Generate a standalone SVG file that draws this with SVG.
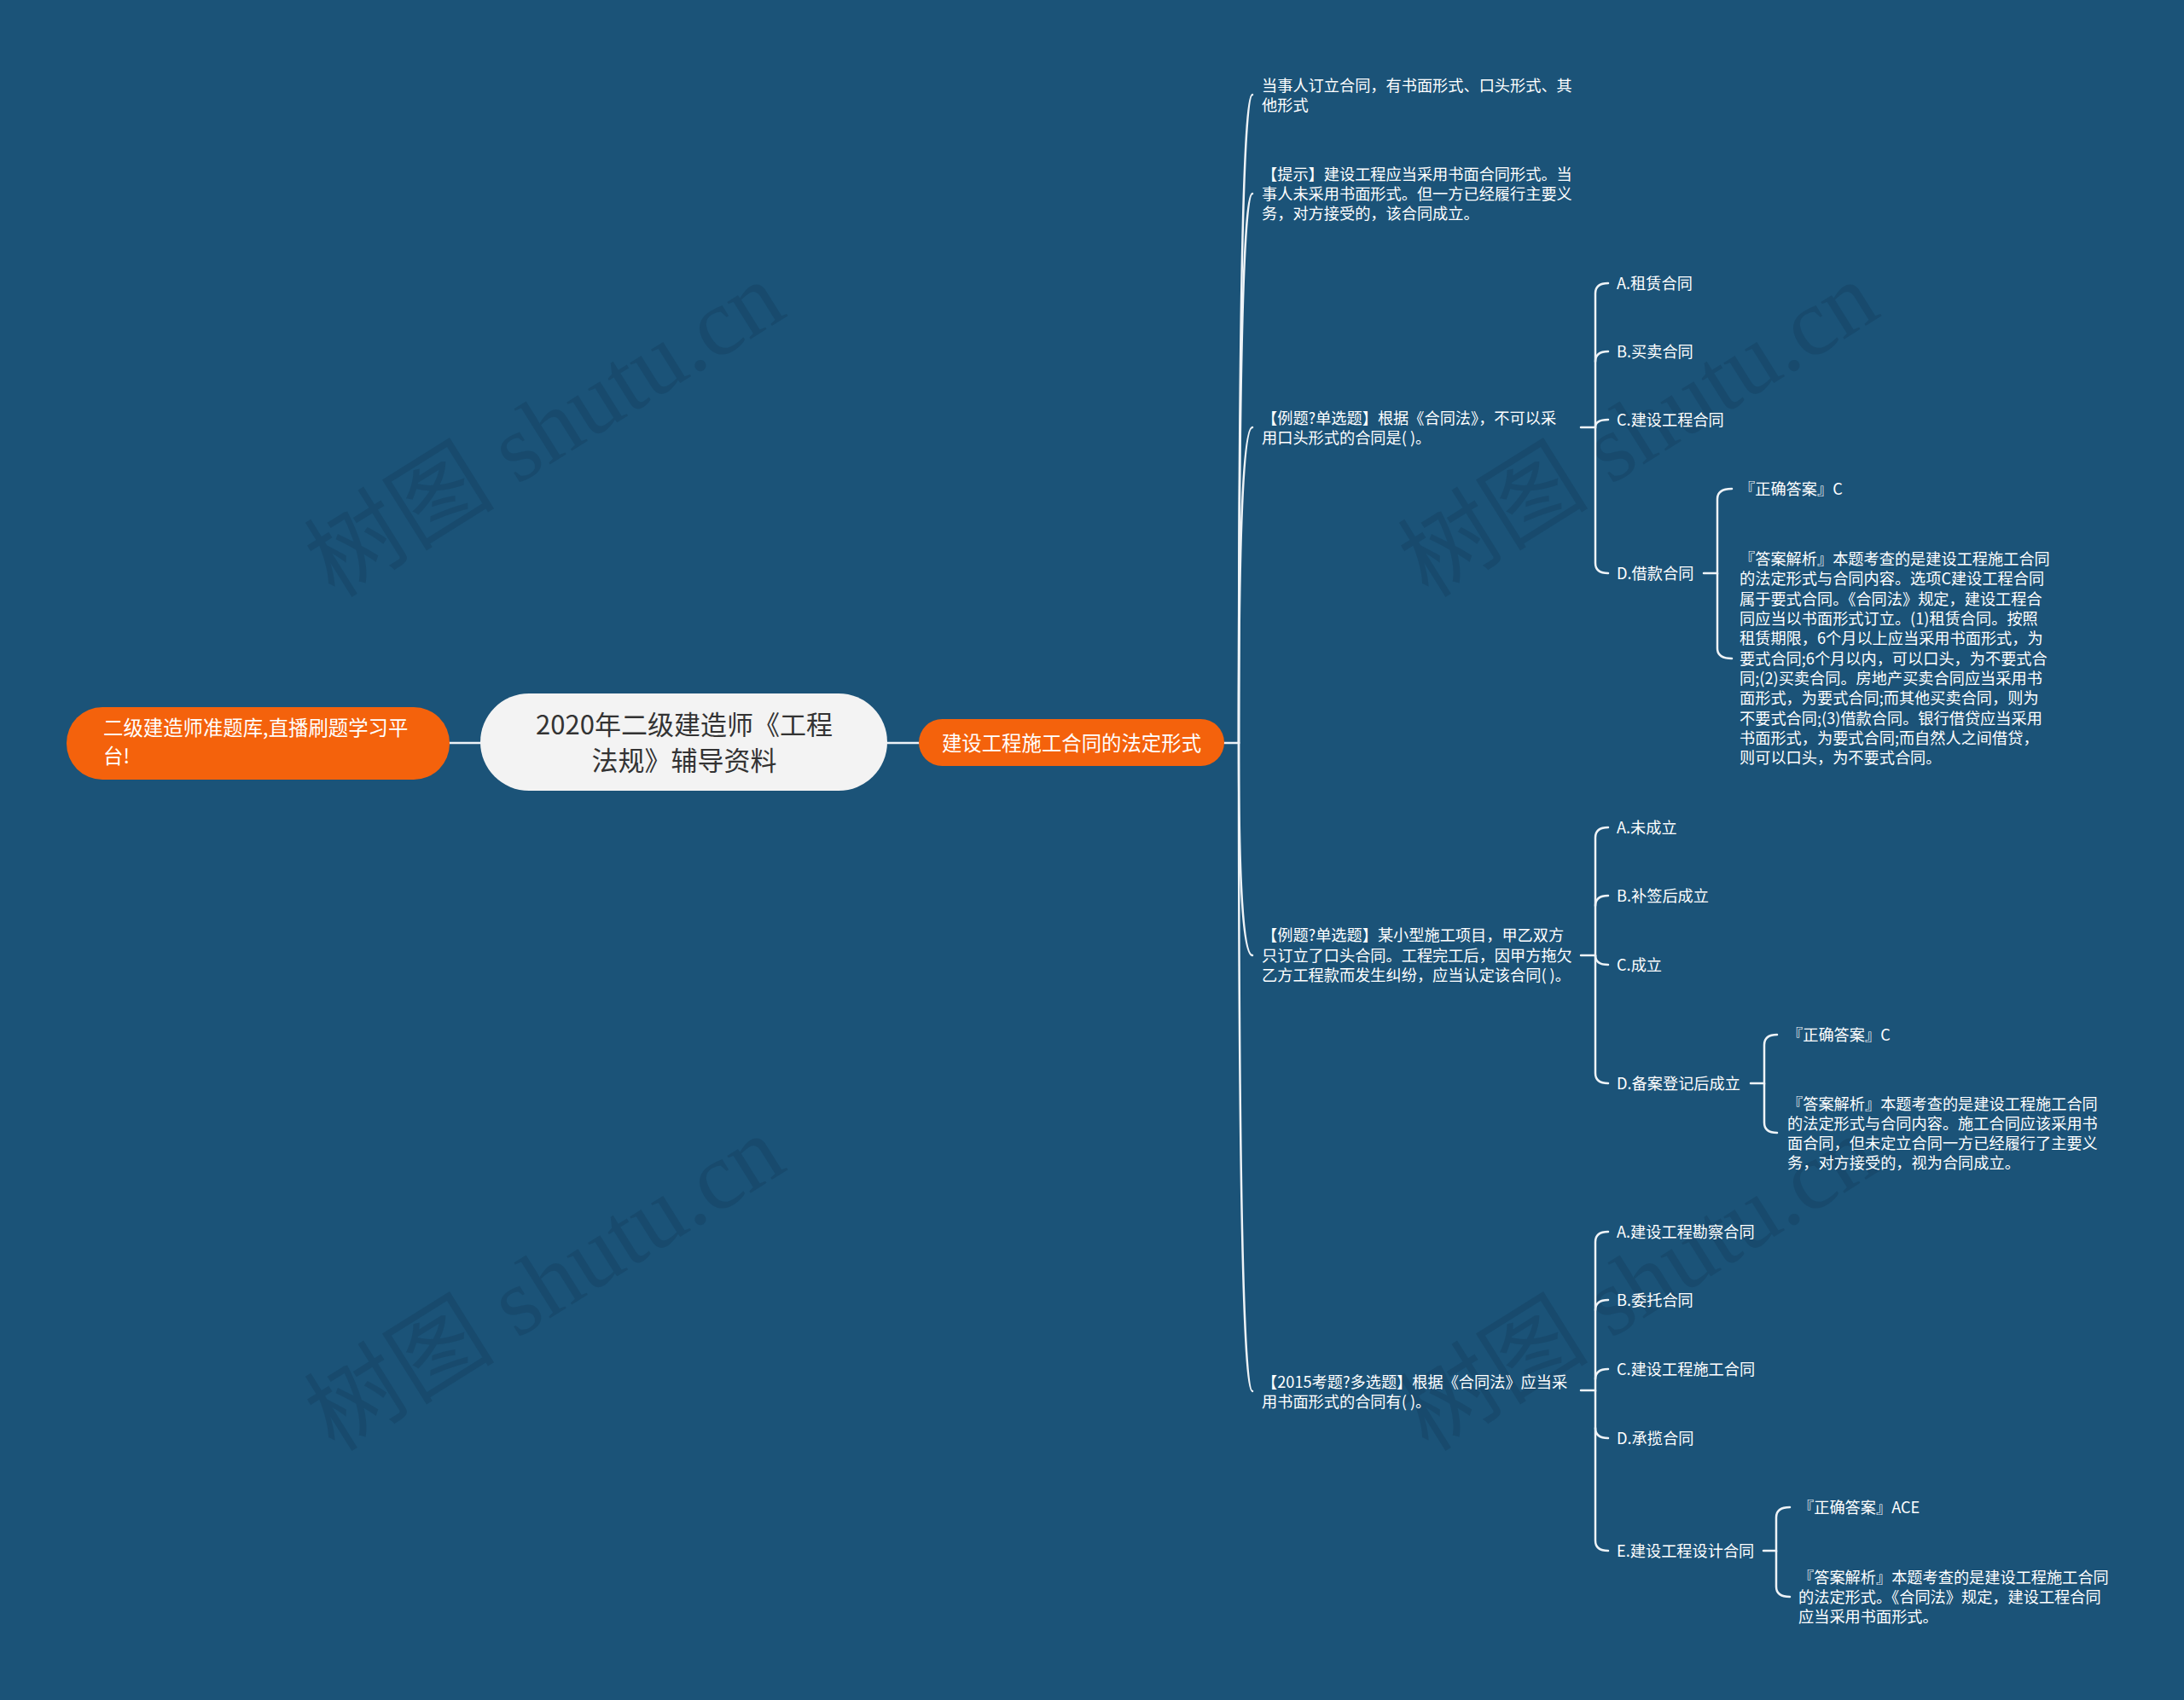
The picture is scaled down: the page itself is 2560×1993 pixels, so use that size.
<svg xmlns="http://www.w3.org/2000/svg" width="2560" height="1993" viewBox="0 0 2560 1993">
<style>
.t{font-family:"Noto Sans CJK SC","Liberation Sans",sans-serif;fill:#ffffff;font-size:18.2px}
.big{font-family:"Noto Sans CJK SC","Liberation Sans",sans-serif;font-size:23.4px;fill:#ffffff}
.root{font-family:"Noto Sans CJK SC","Liberation Sans",sans-serif;font-size:31px;fill:#333333}
.wm{font-family:"Liberation Serif","Noto Sans CJK SC",serif;font-size:112px;fill:#0d2f47;fill-opacity:0.22}
.c{fill:none;stroke:#eef3f7;stroke-width:2.5;stroke-linecap:round}
</style>
<rect width="2560" height="1993" fill="#1b5378"/>
<g id="watermarks">
<text class="wm" x="645" y="514" text-anchor="middle" dominant-baseline="middle" transform="rotate(-32 645 514)">树图 shutu.cn</text>
<text class="wm" x="1927" y="514" text-anchor="middle" dominant-baseline="middle" transform="rotate(-32 1927 514)">树图 shutu.cn</text>
<text class="wm" x="645" y="1515" text-anchor="middle" dominant-baseline="middle" transform="rotate(-32 645 1515)">树图 shutu.cn</text>
<text class="wm" x="1927" y="1515" text-anchor="middle" dominant-baseline="middle" transform="rotate(-32 1927 1515)">树图 shutu.cn</text>
</g>
<g id="connectors">
<path class="c" d="M527,871 H563"/>
<path class="c" d="M1040,871 H1077"/>
<path class="c" d="M1435,871 H1452"/>
<path class="c" d="M1452,871 Q1452,111 1468,111"/>
<path class="c" d="M1452,871 Q1452,227 1468,227"/>
<path class="c" d="M1452,871 Q1452,501 1468,501"/>
<path class="c" d="M1452,871 Q1452,1120 1468,1120"/>
<path class="c" d="M1452,871 Q1452,1631 1468,1631"/>
<path class="c" d="M1853,501 H1870 V344 Q1870,332 1885,332"/>
<path class="c" d="M1870,424 Q1870,412 1885,412"/>
<path class="c" d="M1870,501 Q1870,492 1885,492"/>
<path class="c" d="M1870,501 V660 Q1870,672 1885,672"/>
<path class="c" d="M1997,672 H2013 V585 Q2013,573 2030,573"/>
<path class="c" d="M2013,672 V760 Q2013,772 2030,772"/>
<path class="c" d="M1853,1120 H1870 V982 Q1870,970 1885,970"/>
<path class="c" d="M1870,1062 Q1870,1050 1885,1050"/>
<path class="c" d="M1870,1120 Q1870,1131 1885,1131"/>
<path class="c" d="M1870,1120 V1258 Q1870,1270 1885,1270"/>
<path class="c" d="M2052,1270 H2068 V1225 Q2068,1213 2083,1213"/>
<path class="c" d="M2068,1270 V1316 Q2068,1328 2083,1328"/>
<path class="c" d="M1853,1630 H1870 V1456 Q1870,1444 1885,1444"/>
<path class="c" d="M1870,1536 Q1870,1524 1885,1524"/>
<path class="c" d="M1870,1617 Q1870,1605 1885,1605"/>
<path class="c" d="M1870,1674 Q1870,1686 1885,1686"/>
<path class="c" d="M1870,1630 V1806 Q1870,1818 1885,1818"/>
<path class="c" d="M2067,1818 H2082 V1779 Q2082,1767 2098,1767"/>
<path class="c" d="M2082,1818 V1860 Q2082,1872 2098,1872"/>
</g>
<g id="n-left">
<rect x="78" y="829" width="449" height="85" rx="42" fill="#f4620c"/>
<text class="big" x="121" y="862">二级建造师准题库,直播刷题学习平</text>
<text class="big" x="121" y="895">台!</text>
</g>
<g id="n-root">
<rect x="563" y="813" width="477" height="114" rx="57" fill="#f3f3f3"/>
<text class="root" x="802" y="861" text-anchor="middle">2020年二级建造师《工程</text>
<text class="root" x="802" y="903" text-anchor="middle">法规》辅导资料</text>
</g>
<g id="n-main">
<rect x="1077" y="843" width="358" height="55" rx="27.5" fill="#f4620c"/>
<text class="big" x="1256" y="880" text-anchor="middle">建设工程施工合同的法定形式</text>
</g>
<g id="n1">
<text class="t" x="1479" y="107">当事人订立合同，有书面形式、口头形式、其</text>
<text class="t" x="1479" y="130">他形式</text>
</g>
<g id="n2">
<text class="t" x="1479" y="211">【提示】建设工程应当采用书面合同形式。当</text>
<text class="t" x="1479" y="234">事人未采用书面形式。但一方已经履行主要义</text>
<text class="t" x="1479" y="257">务，对方接受的，该合同成立。</text>
</g>
<g id="n3">
<text class="t" x="1479" y="497">【例题?单选题】根据《合同法》，不可以采</text>
<text class="t" x="1479" y="520">用口头形式的合同是( )。</text>
</g>
<g id="n3a"><text class="t" x="1895" y="339">A.租赁合同</text></g>
<g id="n3b"><text class="t" x="1895" y="419">B.买卖合同</text></g>
<g id="n3c"><text class="t" x="1895" y="499">C.建设工程合同</text></g>
<g id="n3d"><text class="t" x="1895" y="679">D.借款合同</text></g>
<g id="n3d1"><text class="t" x="2039" y="580">『正确答案』C</text></g>
<g id="n3d2">
<text class="t" x="2039" y="662">『答案解析』本题考查的是建设工程施工合同</text>
<text class="t" x="2039" y="685">的法定形式与合同内容。选项C建设工程合同</text>
<text class="t" x="2039" y="709">属于要式合同。《合同法》规定，建设工程合</text>
<text class="t" x="2039" y="732">同应当以书面形式订立。(1)租赁合同。按照</text>
<text class="t" x="2039" y="755">租赁期限，6个月以上应当采用书面形式，为</text>
<text class="t" x="2039" y="779">要式合同;6个月以内，可以口头，为不要式合</text>
<text class="t" x="2039" y="802">同;(2)买卖合同。房地产买卖合同应当采用书</text>
<text class="t" x="2039" y="825">面形式，为要式合同;而其他买卖合同，则为</text>
<text class="t" x="2039" y="849">不要式合同;(3)借款合同。银行借贷应当采用</text>
<text class="t" x="2039" y="872">书面形式，为要式合同;而自然人之间借贷，</text>
<text class="t" x="2039" y="895">则可以口头，为不要式合同。</text>
</g>
<g id="n4">
<text class="t" x="1479" y="1103">【例题?单选题】某小型施工项目，甲乙双方</text>
<text class="t" x="1479" y="1127">只订立了口头合同。工程完工后，因甲方拖欠</text>
<text class="t" x="1479" y="1150">乙方工程款而发生纠纷，应当认定该合同( )。</text>
</g>
<g id="n4a"><text class="t" x="1895" y="977">A.未成立</text></g>
<g id="n4b"><text class="t" x="1895" y="1057">B.补签后成立</text></g>
<g id="n4c"><text class="t" x="1895" y="1138">C.成立</text></g>
<g id="n4d"><text class="t" x="1895" y="1277">D.备案登记后成立</text></g>
<g id="n4d1"><text class="t" x="2095" y="1220">『正确答案』C</text></g>
<g id="n4d2">
<text class="t" x="2095" y="1301">『答案解析』本题考查的是建设工程施工合同</text>
<text class="t" x="2095" y="1324">的法定形式与合同内容。施工合同应该采用书</text>
<text class="t" x="2095" y="1347">面合同，但未定立合同一方已经履行了主要义</text>
<text class="t" x="2095" y="1370">务，对方接受的，视为合同成立。</text>
</g>
<g id="n5">
<text class="t" x="1479" y="1627">【2015考题?多选题】根据《合同法》应当采</text>
<text class="t" x="1479" y="1650">用书面形式的合同有( )。</text>
</g>
<g id="n5a"><text class="t" x="1895" y="1451">A.建设工程勘察合同</text></g>
<g id="n5b"><text class="t" x="1895" y="1531">B.委托合同</text></g>
<g id="n5c"><text class="t" x="1895" y="1612">C.建设工程施工合同</text></g>
<g id="n5d"><text class="t" x="1895" y="1693">D.承揽合同</text></g>
<g id="n5e"><text class="t" x="1895" y="1825">E.建设工程设计合同</text></g>
<g id="n5e1"><text class="t" x="2108" y="1774">『正确答案』ACE</text></g>
<g id="n5e2">
<text class="t" x="2108" y="1856">『答案解析』本题考查的是建设工程施工合同</text>
<text class="t" x="2108" y="1879">的法定形式。《合同法》规定，建设工程合同</text>
<text class="t" x="2108" y="1902">应当采用书面形式。</text>
</g>
</svg>
